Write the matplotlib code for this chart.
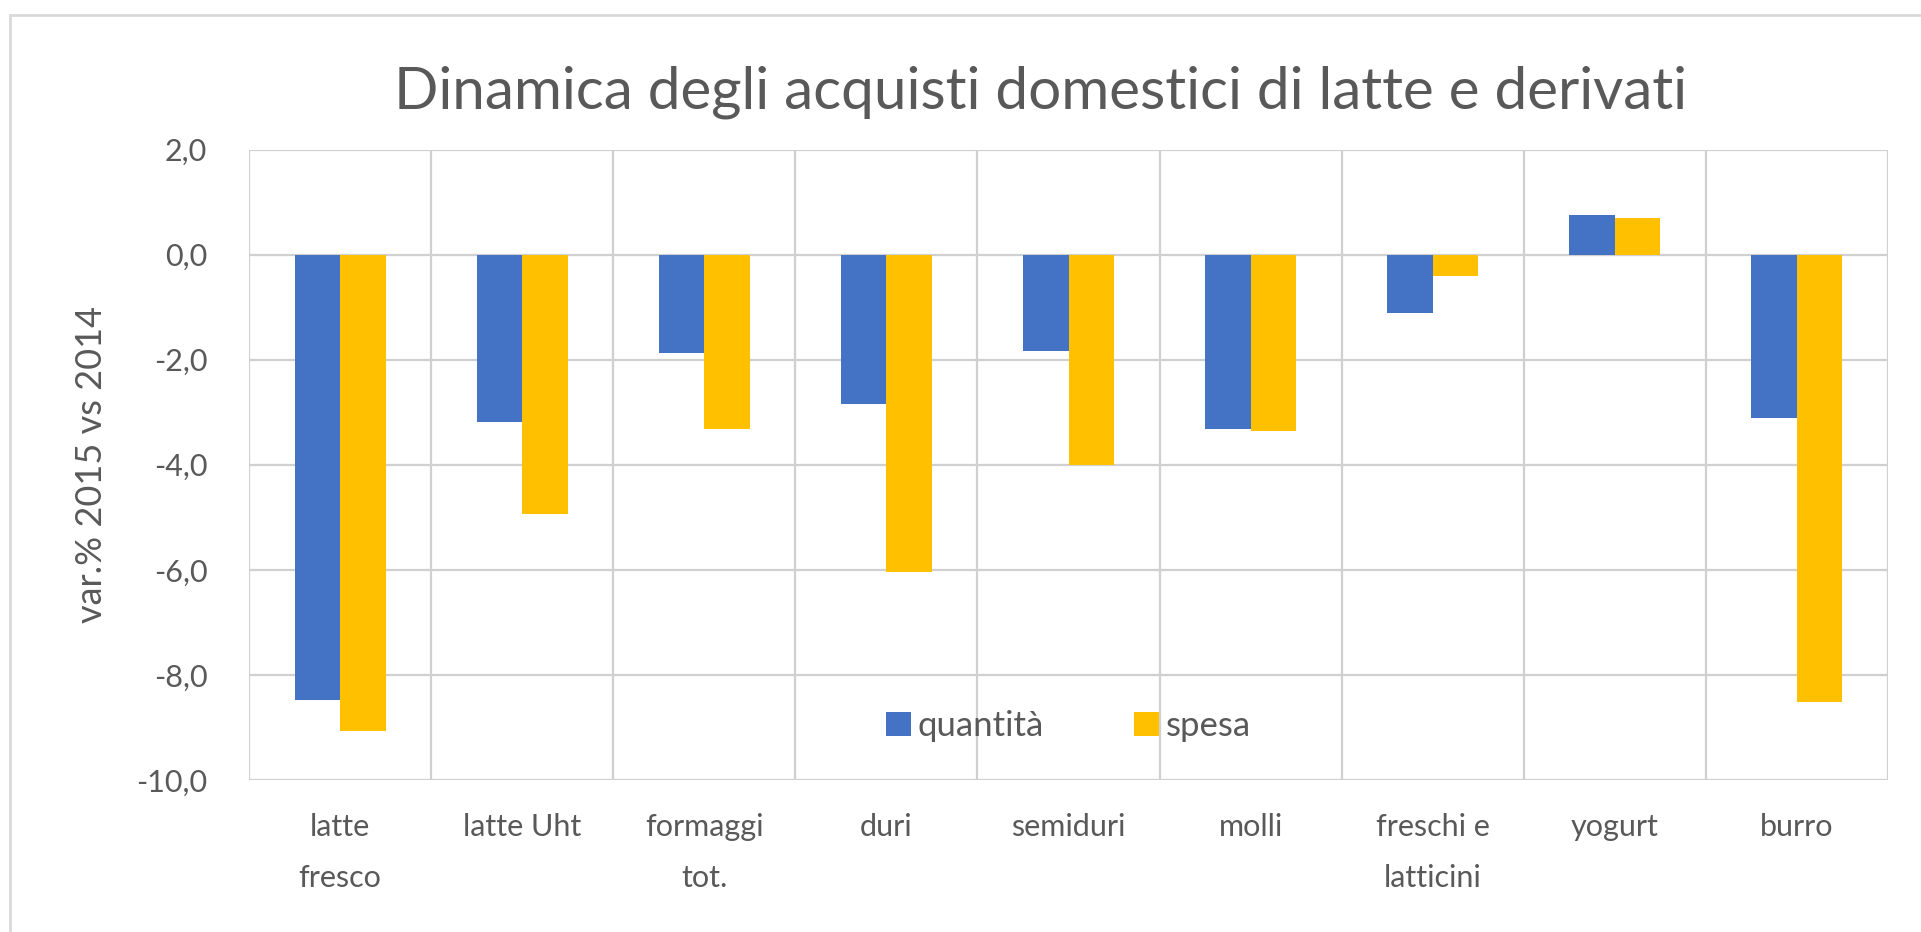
import matplotlib.pyplot as plt
from matplotlib.patches import Rectangle
import numpy as np

plt.rcParams['font.family'] = ['Lato', 'DejaVu Sans']

categories = ["latte\nfresco", "latte Uht", "formaggi\ntot.", "duri", "semiduri",
              "molli", "freschi e\nlatticini", "yogurt", "burro"]
quantita = [-8.47, -3.19, -1.87, -2.85, -1.83, -3.32, -1.12, 0.75, -3.11]
spesa = [-9.06, -4.94, -3.32, -6.04, -4.00, -3.36, -0.41, 0.70, -8.51]
yticks = [2, 0, -2, -4, -6, -8, -10]

blue = "#4472C4"
yellow = "#FFC000"
grey_text = "#595959"
grid_col = "#D0D0D0"

fig = plt.figure(figsize=(19.21, 9.32), dpi=100)
ax = fig.add_axes([249 / 1921, 1 - 780 / 932, (1888 - 249) / 1921, (780 - 149.5) / 932])

# outer chart frame
fig.patches.append(Rectangle((10 / 1921, -0.01), 1.0, 1 - 15 / 932 + 0.01, transform=fig.transFigure,
                             fill=False, edgecolor="#D9D9D9", linewidth=2))

x = np.arange(len(categories))
w = 0.25
ax.bar(x - w / 2, quantita, w, color=blue, label="quantità", zorder=3)
ax.bar(x + w / 2, spesa, w, color=yellow, label="spesa", zorder=3)

ax.set_xlim(-0.5, len(categories) - 0.5)
ax.set_ylim(-10, 2)
ax.set_yticks(yticks)
ax.set_yticklabels([f"{v:.1f}".replace(".", ",") for v in yticks])
ax.set_xticks(x)
ax.set_xticklabels(categories, linespacing=2.0, fontsize=24)

# horizontal gridlines and vertical lines between categories
for v in yticks:
    ax.axhline(v, color=grid_col, lw=1.6, zorder=1)
for b in np.arange(-0.5, len(categories), 1):
    ax.axvline(b, color=grid_col, lw=1.6, zorder=1)

for s in ax.spines.values():
    s.set_visible(False)
ax.tick_params(axis="both", length=0, colors=grey_text, labelsize=22)
ax.tick_params(axis="x", pad=24)
ax.tick_params(axis="y", pad=30)

ax.set_ylabel("var.% 2015 vs 2014", fontsize=26, color=grey_text, labelpad=20)
fig.text(1041 / 1921, 1 - 92 / 932, "Dinamica degli acquisti domestici di latte e derivati",
         ha="center", va="center", fontsize=42, color=grey_text)

ax.legend(loc="center", bbox_to_anchor=(0.5, (726 - 780) / (149.5 - 780)), ncol=2, frameon=False,
          fontsize=25, labelcolor=grey_text, handlelength=0.7, handleheight=0.7,
          handletextpad=0.2, columnspacing=2.6)

fig.savefig("out.png", dpi=100, facecolor="white")
